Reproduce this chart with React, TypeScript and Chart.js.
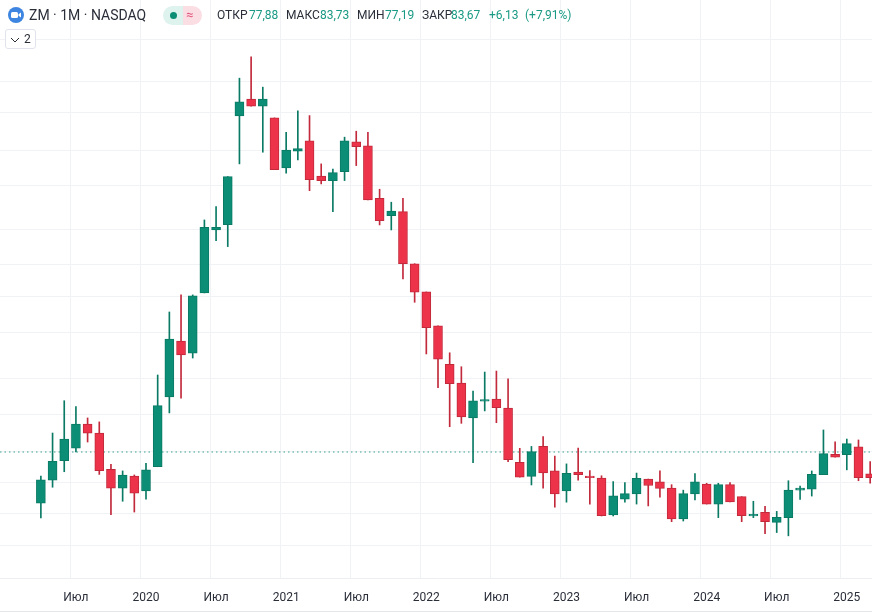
import { useEffect, useRef } from 'react';
import { Chart, registerables } from 'chart.js';

Chart.register(...registerables);

// monthly candles, ZM log scale
const months = [
  '2019-01', '2019-02', '2019-03', '2019-04', '2019-05', '2019-06', '2019-07', '2019-08', '2019-09', '2019-10', '2019-11', '2019-12',
  '2020-01', '2020-02', '2020-03', '2020-04', '2020-05', '2020-06', '2020-07', '2020-08', '2020-09', '2020-10', '2020-11', '2020-12',
  '2021-01', '2021-02', '2021-03', '2021-04', '2021-05', '2021-06', '2021-07', '2021-08', '2021-09', '2021-10', '2021-11', '2021-12',
  '2022-01', '2022-02', '2022-03', '2022-04', '2022-05', '2022-06', '2022-07', '2022-08', '2022-09', '2022-10', '2022-11', '2022-12',
  '2023-01', '2023-02', '2023-03', '2023-04', '2023-05', '2023-06', '2023-07', '2023-08', '2023-09', '2023-10', '2023-11', '2023-12',
  '2024-01', '2024-02', '2024-03', '2024-04', '2024-05', '2024-06', '2024-07', '2024-08', '2024-09', '2024-10', '2024-11', '2024-12',
  '2025-01', '2025-02', '2025-03',
];

const xTickLabels: Record<string, string> = {
  '2019-07': 'Июл', '2020-01': '2020', '2020-07': 'Июл', '2021-01': '2021', '2021-07': 'Июл', '2022-01': '2022',
  '2022-07': 'Июл', '2023-01': '2023', '2023-07': 'Июл', '2024-01': '2024', '2024-07': 'Июл', '2025-01': '2025',
};

const noTrade = [null, null, null]; // Jan-Mar 2019, before the IPO

const opens = [
  65.0, 72.8, 80.2, 85.3, 96.0, 91.9, 76.8, 70.0, 74.3, 69.0, 77.8, 109.8,
  144.8, 136.4, 183.6, 250.6, 257.2, 440.3, 478.2, 461.9, 435.9, 340.6, 369.7, 389.1,
  326.9, 319.8, 334.3, 387.1, 379.6, 293.1, 269.0, 274.3, 212.1, 184.5, 156.0, 129.1,
  117.6, 99.0, 107.6, 108.7, 103.9, 79.5, 74.2, 86.0, 76.2, 69.0, 75.8, 74.3,
  73.6, 61.3, 66.3, 68.0, 73.2, 72.2, 70.0, 60.1, 68.0, 71.4, 64.7, 71.2,
  67.1, 61.0, 62.1, 59.1, 60.5, 69.3, 69.6, 74.8, 82.7, 82.6, 85.8, 75.1,
];
const highs = [
  74.3, 91.9, 107.8, 104.7, 99.0, 97.1, 78.7, 76.2, 74.7, 79.1, 122.4, 167.1,
  181.8, 181.8, 263.3, 281.3, 326.2, 530.4, 589.2, 507.4, 435.9, 406.0, 451.1, 440.9,
  347.3, 338.4, 396.3, 408.1, 406.0, 306.4, 287.4, 293.1, 212.1, 184.5, 156.0, 136.6,
  127.5, 113.0, 124.2, 124.8, 120.1, 85.2, 86.0, 90.3, 82.0, 78.9, 85.3, 76.3,
  74.4, 72.3, 71.9, 75.4, 73.2, 76.2, 71.2, 69.3, 75.2, 71.7, 71.7, 71.9,
  67.1, 65.6, 64.0, 62.4, 72.6, 70.7, 76.2, 93.3, 88.0, 89.2, 88.8, 79.8,
];
const lows = [
  60.4, 70.3, 75.9, 83.7, 87.9, 74.9, 61.4, 65.6, 62.2, 66.3, 77.8, 101.5,
  109.2, 133.1, 183.6, 237.8, 230.8, 347.3, 461.9, 367.9, 337.7, 331.6, 354.1, 304.3,
  314.6, 274.3, 319.8, 344.4, 290.7, 256.9, 250.6, 196.7, 175.3, 135.8, 115.0, 94.8,
  96.4, 79.4, 102.5, 96.7, 79.8, 73.9, 71.1, 70.0, 63.7, 65.3, 72.8, 64.7,
  61.0, 61.0, 65.3, 64.7, 64.1, 66.9, 59.3, 59.5, 66.0, 64.7, 60.5, 65.4,
  59.3, 60.5, 55.9, 56.2, 55.3, 66.2, 67.3, 74.8, 81.6, 76.6, 72.6, 71.7,
];
const closes = [
  72.9, 79.9, 89.2, 96.0, 91.8, 76.3, 70.0, 74.7, 68.3, 76.6, 105.2, 146.2,
  135.1, 181.0, 254.0, 254.0, 326.2, 471.7, 461.9, 478.2, 337.7, 371.6, 374.6, 321.4,
  319.8, 332.6, 389.1, 378.3, 290.7, 262.4, 275.2, 212.1, 184.2, 154.7, 132.4, 117.2,
  99.5, 107.8, 108.4, 104.1, 80.6, 73.9, 83.8, 75.5, 68.0, 75.3, 74.8, 73.7,
  61.1, 67.4, 68.1, 73.5, 70.9, 69.9, 60.1, 68.1, 72.2, 64.7, 71.2, 65.4,
  61.1, 61.5, 59.3, 60.6, 69.3, 70.0, 74.9, 83.0, 81.6, 87.2, 73.7, 73.7,
];

const gridPrices = [640.5, 520.7, 446.7, 370.2, 311.5, 250.6, 210.8, 180, 150.7, 120.5, 100.5, 84, 71.8, 61.9, 52.6];
const lastPrice = 83.67;
const axisMin = 44.9;
const axisMax = 780.4;

const UP = '#0b8e75';
const UP_DARK = '#0a7a65';
const DOWN = '#ec3349';
const DOWN_DARK = '#c22a3c';
const GRID = '#f0f2f6';

const quote = [
  { label: 'ОТКР', value: '77,88', x: 217, vx: 249 },
  { label: 'МАКС', value: '83,73', x: 286, vx: 320 },
  { label: 'МИН', value: '77,19', x: 357, vx: 385 },
  { label: 'ЗАКР', value: '83,67', x: 422, vx: 451 },
];

const priceLine = {
  id: 'priceLine',
  beforeDatasetsDraw(chart: Chart) {
    const { ctx, chartArea, scales } = chart;
    const y = scales.y.getPixelForValue(lastPrice);
    ctx.save();
    ctx.strokeStyle = '#3aa190';
    ctx.lineWidth = 1;
    ctx.setLineDash([1.5, 3]);
    ctx.beginPath();
    ctx.moveTo(chartArea.left, y);
    ctx.lineTo(chartArea.right, y);
    ctx.stroke();
    ctx.restore();
  },
};

const font = 'Roboto, sans-serif';

export default function App() {
  const canvasRef = useRef<HTMLCanvasElement | null>(null);

  useEffect(() => {
    if (!canvasRef.current) return;
    const isUp = closes.map((c, i) => c >= opens[i]);
    const pad = noTrade.map(() => 'transparent');
    const chart = new Chart(canvasRef.current, {
      type: 'bar',
      data: {
        labels: months,
        datasets: [
          {
            label: 'wick',
            data: [...noTrade, ...lows.map((l, i) => [l, highs[i]])] as any,
            backgroundColor: [...pad, ...isUp.map((u) => (u ? UP_DARK : DOWN_DARK))],
            barThickness: 1,
            grouped: false,
            order: 2,
          },
          {
            label: 'body',
            data: [...noTrade, ...opens.map((o, i) => [o, closes[i]])] as any,
            backgroundColor: [...pad, ...isUp.map((u) => (u ? UP : DOWN))],
            borderColor: [...pad, ...isUp.map((u) => (u ? UP_DARK : DOWN_DARK))],
            borderWidth: 1,
            borderSkipped: false,
            barThickness: 9,
            grouped: false,
            order: 1,
          },
        ],
      },
      options: {
        animation: false,
        responsive: false,
        layout: { padding: 0 },
        plugins: { legend: { display: false }, tooltip: { enabled: false } },
        scales: {
          x: {
            afterFit: (s: any) => {
              s.height = 34;
              s.paddingLeft = 0;
              s.paddingRight = 0;
            },
            grid: {
              drawTicks: false,
              color: (c: any) => (xTickLabels[months[c.index]] ? GRID : 'transparent'),
            },
            border: { color: '#eceef2' },
            ticks: {
              autoSkip: false,
              maxRotation: 0,
              minRotation: 0,
              padding: 13,
              color: '#2a2e39',
              font: { size: 12, family: font },
              callback: (_v: any, i: number) => xTickLabels[months[i]] ?? '',
            },
          },
          y: {
            type: 'logarithmic',
            min: axisMin,
            max: axisMax,
            bounds: 'data',
            afterBuildTicks: (s: any) => {
              s.ticks = gridPrices.map((value) => ({ value }));
            },
            afterFit: (s: any) => {
              s.width = 0;
              s.paddingTop = 0;
              s.paddingBottom = 0;
            },
            grid: { drawTicks: false, color: GRID },
            border: { display: false },
            ticks: { display: false },
          },
        },
      },
      plugins: [priceLine],
    });
    return () => chart.destroy();
  }, []);

  const text = (x: number, color: string, size = 12): React.CSSProperties => ({
    position: 'absolute',
    left: x,
    top: 15,
    transform: 'translateY(-50%)',
    color,
    fontSize: size,
    lineHeight: '16px',
    whiteSpace: 'nowrap',
  });

  return (
    <div style={{ position: 'relative', width: 872, height: 612, overflow: 'hidden', fontFamily: font, background: '#fff' }}>
      <style>{'body{margin:0;overflow:hidden}'}</style>
      <canvas ref={canvasRef} width={876} height={612} style={{ display: 'block', position: 'absolute', left: 0, top: 0 }} />
      <div style={{ position: 'absolute', left: 0, top: 611, width: 872, height: 1, background: '#e4e6ea' }} />

      {/* legend row */}
      <svg width={16} height={16} style={{ position: 'absolute', left: 8, top: 7 }}>
        <circle cx={8} cy={8} r={8} fill="#3d85e0" />
        <rect x={3} y={5} width={7} height={6} rx={1.5} fill="#fff" />
        <path d="M10.5 7.2 L13 5.5 V10.5 L10.5 8.8 Z" fill="#fff" />
      </svg>
      <div style={text(29, '#2a2e39', 14)}>ZM · 1M · NASDAQ</div>
      <div style={{ position: 'absolute', left: 163, top: 6, width: 20, height: 19, borderRadius: '10px 0 0 10px', background: '#dff3ee' }} />
      <div style={{ position: 'absolute', left: 183, top: 6, width: 19, height: 19, borderRadius: '0 10px 10px 0', background: '#fbdde4' }} />
      <div style={{ position: 'absolute', left: 170, top: 12, width: 7, height: 7, borderRadius: 4, background: '#0b8e75' }} />
      <div style={{ ...text(186, '#e0557a', 13) }}>≈</div>
      {quote.map((q) => (
        <div key={q.label}>
          <div style={text(q.x, '#2a2e39')}>{q.label}</div>
          <div style={text(q.vx, '#1a9a84')}>{q.value}</div>
        </div>
      ))}
      <div style={text(489, '#1a9a84')}>+6,13</div>
      <div style={text(525, '#1a9a84')}>(+7,91%)</div>

      <div
        style={{
          position: 'absolute',
          left: 5,
          top: 29,
          width: 29,
          height: 18,
          border: '1px solid #e0e3eb',
          borderRadius: 3,
          background: '#fff',
          color: '#2a2e39',
          fontSize: 12,
          lineHeight: '18px',
        }}
      >
        <svg width={10} height={6} style={{ position: 'absolute', left: 4, top: 7 }}>
          <path d="M1 1 L5 5 L9 1" fill="none" stroke="#2a2e39" strokeWidth={1} />
        </svg>
        <span style={{ position: 'absolute', left: 18 }}>2</span>
      </div>
    </div>
  );
}
